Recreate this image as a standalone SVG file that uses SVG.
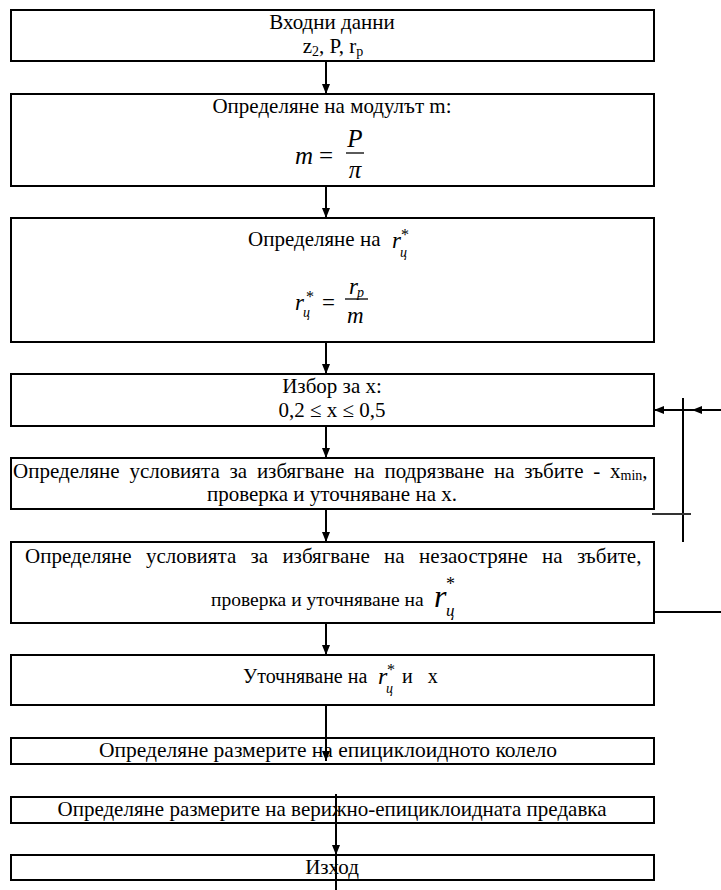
<svg xmlns="http://www.w3.org/2000/svg" width="721" height="890" viewBox="0 0 721 890">
<style>
.box{fill:#fff;stroke:#000;stroke-width:2}
.t{font-family:"Liberation Serif","Times New Roman",serif;font-size:21px;fill:#000}
.m{font-family:"Liberation Serif","Times New Roman",serif;font-style:italic;fill:#000}
.r{font-family:"Liberation Serif","Times New Roman",serif;fill:#000}
.c{text-anchor:middle}
.ln{stroke:#000;stroke-width:2;fill:none}
</style>
<defs>
<marker id="ah" viewBox="0 0 10 8" refX="10" refY="4" markerWidth="10" markerHeight="8" markerUnits="userSpaceOnUse" orient="auto">
<path d="M0,0 L10,4 L0,8 Z" fill="#000"/>
</marker>
</defs>
<rect width="721" height="890" fill="#fff"/>

<g id="n1">
<rect class="box" x="11" y="10" width="643" height="51"/>
<text class="t c" x="332" y="29">Входни данни</text>
<text class="t c" x="333" y="53">z<tspan style="font-size:14px" dy="3">2</tspan><tspan dy="-3">, P, r</tspan><tspan style="font-size:14px" dy="3">p</tspan></text>
</g>

<g id="n2">
<rect class="box" x="11" y="94" width="643" height="92"/>
<text class="t c" x="332" y="113">Определяне на модулът m:</text>
<text class="m" x="295" y="164" font-size="25">m</text>
<text class="r" x="319" y="164" font-size="25">=</text>
<line x1="346" y1="153" x2="364" y2="153" stroke="#000" stroke-width="1.3"/>
<text class="m c" x="355" y="147" font-size="25">P</text>
<text class="m c" x="355" y="178" font-size="25">π</text>
</g>

<g id="n3">
<rect class="box" x="11" y="218" width="643" height="124"/>
<text class="t" x="248" y="246">Определяне на</text>
<text class="m" x="392" y="248" font-size="23">r</text>
<text class="m" x="400" y="257" font-size="14">ц</text>
<text class="r" x="401" y="240" font-size="16">*</text>
<text class="m" x="295" y="310" font-size="23">r</text>
<text class="m" x="303" y="317" font-size="14">ц</text>
<text class="r" x="306" y="302" font-size="16">*</text>
<text class="r" x="322" y="310" font-size="23">=</text>
<line x1="345" y1="299" x2="368" y2="299" stroke="#000" stroke-width="1.3"/>
<text class="m" x="349" y="294" font-size="23">r</text>
<text class="m" x="357" y="297" font-size="14">p</text>
<text class="m" x="347" y="323" font-size="23">m</text>
</g>

<g id="n4">
<rect class="box" x="11" y="374" width="643" height="52"/>
<text class="t c" x="332" y="393">Избор за x:</text>
<text class="t c" x="332" y="417">0,2 ≤ x ≤ 0,5</text>
</g>

<g id="n5">
<rect class="box" x="11" y="458" width="643" height="51"/>
<text class="t" x="13" y="478" style="word-spacing:4.5px">Определяне условията за избягване на подрязване на зъбите - x<tspan style="font-size:14px" dy="2">min</tspan><tspan dy="-2">,</tspan></text>
<text class="t c" x="332" y="501">проверка и уточняване на x.</text>
</g>

<g id="n6">
<rect class="box" x="11" y="542" width="643" height="81"/>
<text class="t" x="25" y="563" style="word-spacing:9px">Определяне условията за избягване на незаостряне на зъбите,</text>
<text class="t" x="211" y="606" style="font-size:19.5px">проверка и уточняване на</text>
<text class="m" x="434" y="607" font-size="32">r</text>
<text class="m" x="446" y="616" font-size="17">ц</text>
<text class="r" x="446" y="590" font-size="18">*</text>
</g>

<g id="n7">
<rect class="box" x="11" y="655" width="643" height="50"/>
<text class="t" x="243" y="683" style="font-size:20px">Уточняване на</text>
<text class="m" x="378" y="684" font-size="24">r</text>
<text class="m" x="386" y="693" font-size="14">ц</text>
<text class="r" x="387" y="675" font-size="16">*</text>
<text class="t" x="402" y="683" style="font-size:20px" xml:space="preserve">и   x</text>
</g>

<g id="n8">
<rect class="box" x="11" y="738" width="643" height="26"/>
<text class="t c" x="328" y="757" style="font-size:21.5px">Определяне размерите на епициклоидното колело</text>
</g>

<g id="n9">
<rect class="box" x="11" y="797" width="643" height="26"/>
<text class="t c" x="332" y="816">Определяне размерите на верижно-епициклоидната предавка</text>
</g>

<g id="n10">
<rect class="box" x="11" y="855" width="643" height="25"/>
<text class="t c" x="332" y="874">Изход</text>
</g>

<g id="connectors">
<line class="ln" x1="326" y1="61" x2="326" y2="94" marker-end="url(#ah)"/>
<line class="ln" x1="326" y1="186" x2="326" y2="218" marker-end="url(#ah)"/>
<line class="ln" x1="326" y1="342" x2="326" y2="374" marker-end="url(#ah)"/>
<line class="ln" x1="326" y1="426" x2="326" y2="458" marker-end="url(#ah)"/>
<line class="ln" x1="326" y1="509" x2="326" y2="542" marker-end="url(#ah)"/>
<line class="ln" x1="326" y1="623" x2="326" y2="655" marker-end="url(#ah)"/>
<line class="ln" x1="326" y1="705" x2="326" y2="761" marker-end="url(#ah)"/>
<line class="ln" x1="336" y1="794" x2="336" y2="855" marker-end="url(#ah)"/>
<line class="ln" x1="336" y1="855" x2="336" y2="890"/>
<line class="ln" x1="721" y1="410" x2="692" y2="410" marker-end="url(#ah)"/>
<line class="ln" x1="692" y1="410" x2="654" y2="410" marker-end="url(#ah)"/>
<line class="ln" x1="683" y1="398" x2="683" y2="542"/>
<line x1="652" y1="514" x2="691" y2="514" stroke="#333" stroke-width="2"/>
<line class="ln" x1="654" y1="612" x2="721" y2="612"/>
</g>
</svg>
